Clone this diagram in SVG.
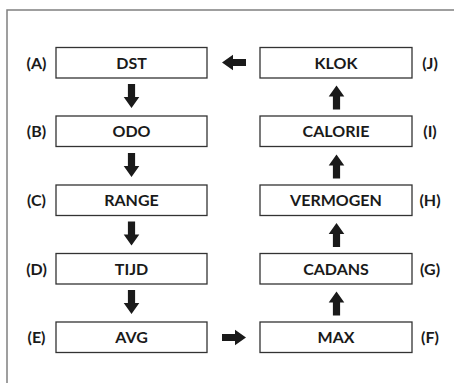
<svg xmlns="http://www.w3.org/2000/svg" width="454" height="383" viewBox="0 0 454 383">
<style>
.frame{fill:none;stroke:#808080;stroke-width:1.5}
.box rect{fill:#fff;stroke:#333;stroke-width:1.3}
text{font-family:Lato,"Open Sans","Liberation Sans",sans-serif;font-weight:bold;font-size:16px;fill:#1a1a1a;text-anchor:middle}
.arrow{fill:#1a1a1a}
</style>
<defs>
<path id="arr" d="M-3.6,0 H3.6 V13 H7.8 L0,24 L-7.8,13 H-3.6 Z"/>
</defs>
<rect width="454" height="383" fill="#fff"/>
<path class="frame" d="M7,383 V10 H454"/>
<g id="A" class="box"><rect x="56" y="47.5" width="151" height="30.5"/><text x="131.5" y="68.5">DST</text><text x="36.5" y="68.5">(A)</text></g>
<g id="B" class="box"><rect x="56" y="116" width="151" height="30.5"/><text x="131.5" y="137">ODO</text><text x="36.5" y="137">(B)</text></g>
<g id="C" class="box"><rect x="56" y="185" width="151" height="30.5"/><text x="131.5" y="206">RANGE</text><text x="36.5" y="206">(C)</text></g>
<g id="D" class="box"><rect x="56" y="253.5" width="151" height="30.5"/><text x="131.5" y="274.5">TIJD</text><text x="36.5" y="274.5">(D)</text></g>
<g id="E" class="box"><rect x="56" y="322" width="151" height="30.5"/><text x="131.5" y="343">AVG</text><text x="36.5" y="343">(E)</text></g>
<g id="F" class="box"><rect x="260" y="322" width="152" height="30.5"/><text x="336" y="343">MAX</text><text x="430" y="343">(F)</text></g>
<g id="G" class="box"><rect x="260" y="253.5" width="152" height="30.5"/><text x="336" y="274.5">CADANS</text><text x="430" y="274.5">(G)</text></g>
<g id="H" class="box"><rect x="260" y="185" width="152" height="30.5"/><text x="336" y="206">VERMOGEN</text><text x="430" y="206">(H)</text></g>
<g id="I" class="box"><rect x="260" y="116" width="152" height="30.5"/><text x="336" y="137">CALORIE</text><text x="430" y="137">(I)</text></g>
<g id="J" class="box"><rect x="260" y="47.5" width="152" height="30.5"/><text x="336" y="68.5">KLOK</text><text x="430" y="68.5">(J)</text></g>
<g id="connectors" class="arrow">
<use href="#arr" transform="translate(131.5,84)"/>
<use href="#arr" transform="translate(131.5,153)"/>
<use href="#arr" transform="translate(131.5,221.5)"/>
<use href="#arr" transform="translate(131.5,290)"/>
<use href="#arr" transform="translate(222,337.5) rotate(-90)"/>
<use href="#arr" transform="translate(336.5,315.5) rotate(180)"/>
<use href="#arr" transform="translate(336.5,247) rotate(180)"/>
<use href="#arr" transform="translate(336.5,178.5) rotate(180)"/>
<use href="#arr" transform="translate(336.5,109.5) rotate(180)"/>
<use href="#arr" transform="translate(246,62.5) rotate(90)"/>
</g>
</svg>
